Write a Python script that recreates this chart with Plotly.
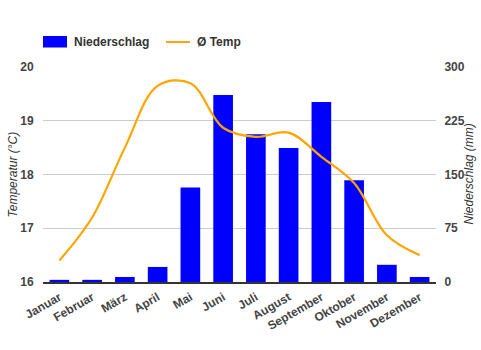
import plotly.graph_objects as go

months = ["Januar", "Februar", "März", "April", "Mai", "Juni", "Juli",
          "August", "September", "Oktober", "November", "Dezember"]
niederschlag = [3, 3, 7, 21, 132, 261, 206, 187, 251, 142, 24, 7]
temp = [16.4, 17.2, 18.5, 19.65, 19.7, 18.87, 18.7, 18.78, 18.33, 17.84, 16.87, 16.5]

FONT = "Liberation Sans, Arial, sans-serif"
TXT = "#444"
PW, PH = 393, 215

fig = go.Figure()
fig.add_trace(go.Bar(x=months, y=niederschlag, name="Niederschlag",
                     marker=dict(color="#0000FF", line=dict(width=0)),
                     yaxis="y", showlegend=False))
fig.add_trace(go.Scatter(x=months, y=temp, name="Ø Temp", mode="lines",
                         line=dict(color="#FFA500", width=2.2, shape="spline", smoothing=1.0),
                         yaxis="y2", showlegend=False))

fig.update_layout(
    width=481, height=350,
    margin=dict(l=43, r=45, t=67, b=68),
    paper_bgcolor="white", plot_bgcolor="white",
    bargap=0.4,
    font=dict(family=FONT, size=12, color=TXT),
    xaxis=dict(tickangle=-30, tickfont=dict(family=FONT, size=12, color=TXT, weight="bold"),
               showline=True, linecolor="#333", linewidth=1.5, showgrid=False,
               ticks="outside", ticklen=2, tickcolor="rgba(0,0,0,0)",
               fixedrange=True, automargin=False),
    yaxis=dict(side="right", range=[0, 300], tickvals=[0, 75, 150, 225, 300],
               showgrid=True, gridcolor="#ccc", gridwidth=1, zeroline=False,
               tickfont=dict(family=FONT, size=12, color=TXT, weight="bold"),
               ticks="outside", ticklen=5, tickcolor="rgba(0,0,0,0)", automargin=False),
    yaxis2=dict(side="left", overlaying="y", range=[16, 20], tickvals=[16, 17, 18, 19, 20],
                showgrid=False, zeroline=False, automargin=False,
                tickfont=dict(family=FONT, size=12, color=TXT, weight="bold"),
                ticks="outside", ticklen=6, tickcolor="rgba(0,0,0,0)"),
)

# axis titles
fig.add_annotation(xref="paper", yref="paper", x=(12 - 43) / PW, y=0.5, text="<i>Temperatur (°C)</i>",
                   textangle=-90, showarrow=False, xanchor="center", yanchor="middle",
                   font=dict(family=FONT, size=12, color="#333"))
fig.add_annotation(xref="paper", yref="paper", x=(468 - 43) / PW, y=0.5, text="<i>Niederschlag (mm)</i>",
                   textangle=-90, showarrow=False, xanchor="center", yanchor="middle",
                   font=dict(family=FONT, size=12, color="#333"))

# custom legend (layout decoration)
fig.add_shape(type="rect", xref="paper", yref="paper", x0=0, x1=24/PW, y0=1+(67-47.5)/PH, y1=1+(67-36)/PH,
              fillcolor="#0000FF", line=dict(width=0))
fig.add_annotation(xref="paper", yref="paper", x=29/PW, y=1+(67-42)/PH, text="<b>Niederschlag</b>",
                   showarrow=False, xanchor="left", yanchor="middle",
                   font=dict(family=FONT, size=12, color="#333"))
fig.add_shape(type="line", xref="paper", yref="paper", x0=123/PW, x1=147/PW, y0=1+(67-42)/PH, y1=1+(67-42)/PH,
              line=dict(color="#FFA500", width=2))
fig.add_annotation(xref="paper", yref="paper", x=152/PW, y=1+(67-42)/PH, text="<b>Ø Temp</b>",
                   showarrow=False, xanchor="left", yanchor="middle",
                   font=dict(family=FONT, size=12, color="#333"))

fig.write_html("out.html")
